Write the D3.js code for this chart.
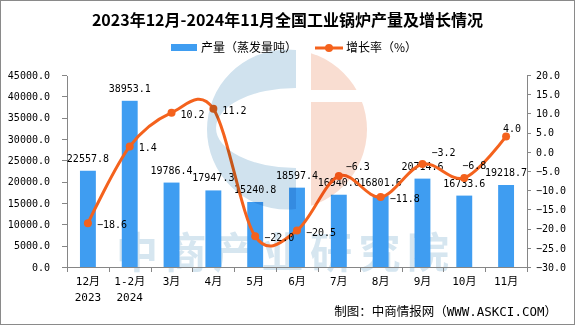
<!doctype html>
<html>
<head>
<meta charset="UTF-8" />
<title>全国工业锅炉产量及增长情况</title>
<script src="https://cdn.jsdelivr.net/npm/d3@7"></script>
<style type="text/css">
body {
	margin: 0;
	background: #fff;
}

.axis path,
.axis line {
	stroke: #868686;
	shape-rendering: crispEdges;
}

.axis text {
	font-family: 'DejaVu Sans Mono', 'Liberation Mono', monospace;
	font-size: 10px;
	fill: #000;
}

.cjk {
	font-family: 'Noto Sans CJK SC', sans-serif;
}
</style>
</head>
<body>
<div id="chart"></div>
<script>
	// data
	var months = ["12月", "1-2月", "3月", "4月", "5月", "6月", "7月", "8月", "9月", "10月", "11月"];
	var years = ["2023", "2024", "", "", "", "", "", "", "", "", ""];
	var output = [22557.8, 38953.1, 19786.4, 17947.3, 15240.8, 18597.4, 16940.0, 16801.6, 20714.6, 16733.6, 19218.7];
	var growth = [-18.6, 1.4, 10.2, 11.2, -22.0, -20.5, -6.3, -11.8, -3.2, -6.8, 4.0];
	var leftTicks = [0, 5000, 10000, 15000, 20000, 25000, 30000, 35000, 40000, 45000];
	var rightTicks = [-30, -25, -20, -15, -10, -5, 0, 5, 10, 15, 20];

	var W = 575, H = 326;
	var margin = {top: 75, right: 48, bottom: 59, left: 67},
		width = W - margin.left - margin.right,
		height = H - margin.top - margin.bottom;

	var barColor = "#3f9df1",
		lineColor = "#f4621d",
		numFont = "'DejaVu Sans Mono', 'Liberation Mono', monospace",
		mixFont = "'DejaVu Sans Mono', 'Noto Sans CJK SC', monospace";

	var svg = d3.select("#chart").append("svg")
		.attr("width", W)
		.attr("height", H);

	svg.append("rect")
		.attr("x", 0.5).attr("y", 0.5)
		.attr("width", W - 1).attr("height", H - 2)
		.attr("fill", "#fff")
		.attr("stroke", "#8a8a8a");

	// title
	svg.append("text")
		.attr("class", "cjk")
		.attr("x", W / 2)
		.attr("y", 26)
		.attr("text-anchor", "middle")
		.style("font-size", "16px")
		.style("font-weight", "bold")
		.text("2023年12月-2024年11月全国工业锅炉产量及增长情况");

	// legend
	var legend = svg.append("g").attr("class", "cjk").style("font-size", "12px");
	legend.append("rect")
		.attr("x", 171).attr("y", 44)
		.attr("width", 26).attr("height", 7)
		.attr("fill", barColor);
	legend.append("text").attr("x", 201).attr("y", 52).text("产量（蒸发量吨）");
	legend.append("line")
		.attr("x1", 315).attr("x2", 343)
		.attr("y1", 48).attr("y2", 48)
		.attr("stroke", lineColor)
		.attr("stroke-width", 3);
	legend.append("circle")
		.attr("cx", 329).attr("cy", 48).attr("r", 4)
		.attr("fill", lineColor);
	legend.append("text").attr("x", 346).attr("y", 52).text("增长率（%）");

	// watermark text sits behind the marks
	svg.append("text")
		.attr("class", "cjk")
		.attr("x", 116)
		.attr("y", 268)
		.style("font-size", "42px")
		.style("font-weight", "bold")
		.style("letter-spacing", "6.5px")
		.attr("fill", "#d6e6f0")
		.text("中商产业研究院");

	var g = svg.append("g")
		.attr("transform", "translate(" + margin.left + "," + margin.top + ")");

	var x = d3.scaleBand()
		.domain(months)
		.range([0, width])
		.padding(0);

	var yL = d3.scaleLinear()
		.domain([0, 45000])
		.range([height, 0]);

	var yR = d3.scaleLinear()
		.domain([-30, 20])
		.range([height, 0]);

	var fmt = d3.format(".1f");

	// axes
	g.append("g")
		.attr("class", "axis")
		.call(d3.axisLeft(yL).tickValues(leftTicks).tickFormat(fmt).tickSizeInner(5).tickSizeOuter(0).tickPadding(12));

	g.append("g")
		.attr("class", "axis")
		.attr("transform", "translate(" + width + ",0)")
		.call(d3.axisRight(yR).tickValues(rightTicks).tickFormat(fmt).tickSizeInner(4).tickSizeOuter(0).tickPadding(5));

	var xEdge = d3.scaleLinear().domain([0, months.length]).range([0, width]);
	g.append("g")
		.attr("class", "axis")
		.attr("transform", "translate(0," + height + ")")
		.call(d3.axisBottom(xEdge).ticks(months.length).tickFormat("").tickSizeInner(5).tickSizeOuter(0));

	var xl = g.append("g")
		.style("font-family", mixFont)
		.style("font-size", "11px")
		.attr("text-anchor", "middle");
	xl.selectAll("text.m")
		.data(months)
		.join("text")
		.attr("class", "m")
		.attr("x", function(d) { return x(d) + x.bandwidth() / 2; })
		.attr("y", height + 18)
		.text(function(d) { return d; });
	xl.selectAll("text.yr")
		.data(years)
		.join("text")
		.attr("class", "yr")
		.attr("x", function(d, i) { return x(months[i]) + x.bandwidth() / 2; })
		.attr("y", height + 34)
		.text(function(d) { return d; });

	// bars
	var bw = x.bandwidth() * 0.38;
	g.selectAll("rect.bar")
		.data(output)
		.join("rect")
		.attr("class", "bar")
		.attr("x", function(d, i) { return x(months[i]) + (x.bandwidth() - bw) / 2; })
		.attr("y", function(d) { return yL(d); })
		.attr("width", bw)
		.attr("height", function(d) { return height - yL(d); })
		.attr("fill", barColor);

	g.selectAll("text.barlab")
		.data(output)
		.join("text")
		.attr("class", "barlab")
		.attr("x", function(d, i) { return x(months[i]) + x.bandwidth() / 2; })
		.attr("y", function(d) { return yL(d) - 9; })
		.attr("text-anchor", "middle")
		.style("font-family", numFont)
		.style("font-size", "10px")
		.text(fmt);

	// growth line
	var line = d3.line()
		.x(function(d, i) { return x(months[i]) + x.bandwidth() / 2; })
		.y(function(d) { return yR(d); })
		.curve(d3.curveCardinal.tension(0));

	g.append("path")
		.datum(growth)
		.attr("d", line)
		.attr("fill", "none")
		.attr("stroke", lineColor)
		.attr("stroke-width", 3);

	g.selectAll("circle.pt")
		.data(growth)
		.join("circle")
		.attr("class", "pt")
		.attr("cx", function(d, i) { return x(months[i]) + x.bandwidth() / 2; })
		.attr("cy", function(d) { return yR(d); })
		.attr("r", 4)
		.attr("fill", lineColor);

	// most labels sit right of the point, a few are lifted
	var nudge = {6: [7, -10], 8: [9, -12], 9: [-2, -13], 10: [-3, -8]};
	g.selectAll("text.ratelab")
		.data(growth)
		.join("text")
		.attr("class", "ratelab")
		.attr("x", function(d, i) {
			var off = nudge[i] ? nudge[i][0] : 9;
			return x(months[i]) + x.bandwidth() / 2 + off;
		})
		.attr("y", function(d, i) {
			var off = nudge[i] ? nudge[i][1] : 1;
			return yR(d) + off + 4;
		})
		.style("font-family", numFont)
		.style("font-size", "10px")
		.text(fmt);

	// logo watermark, multiplied over the chart
	var cx = 287, cy = 129.5, R = 80;
	var defs = svg.append("defs");
	defs.append("clipPath").attr("id", "leftClip")
		.append("rect").attr("x", 0).attr("y", 0).attr("width", 296).attr("height", H);
	var rc = defs.append("clipPath").attr("id", "rightClip");
	rc.append("rect").attr("x", 311).attr("y", 0).attr("width", 200).attr("height", 90);
	rc.append("rect").attr("x", 311).attr("y", 102).attr("width", 200).attr("height", 150);

	var logo = svg.append("g").style("mix-blend-mode", "multiply");
	var blue = d3.path();
	blue.arc(cx, cy, R, 0, 2 * Math.PI);
	blue.closePath();
	logo.append("path")
		.attr("d", blue.toString() +
			" M376,128 A80,40 0 1,0 216,128 A80,40 0 1,0 376,128 Z")
		.attr("fill-rule", "evenodd")
		.attr("clip-path", "url(#leftClip)")
		.attr("fill", "#d0e2ee");
	logo.append("circle")
		.attr("cx", cx).attr("cy", cy).attr("r", R)
		.attr("clip-path", "url(#rightClip)")
		.attr("fill", "#f9ddd1");

	// footer
	svg.append("text")
		.attr("x", 557)
		.attr("y", 316)
		.attr("text-anchor", "end")
		.style("font-family", mixFont)
		.style("font-size", "12.5px")
		.text("制图：中商情报网（WWW.ASKCI.COM）");
</script>
</body>
</html>
